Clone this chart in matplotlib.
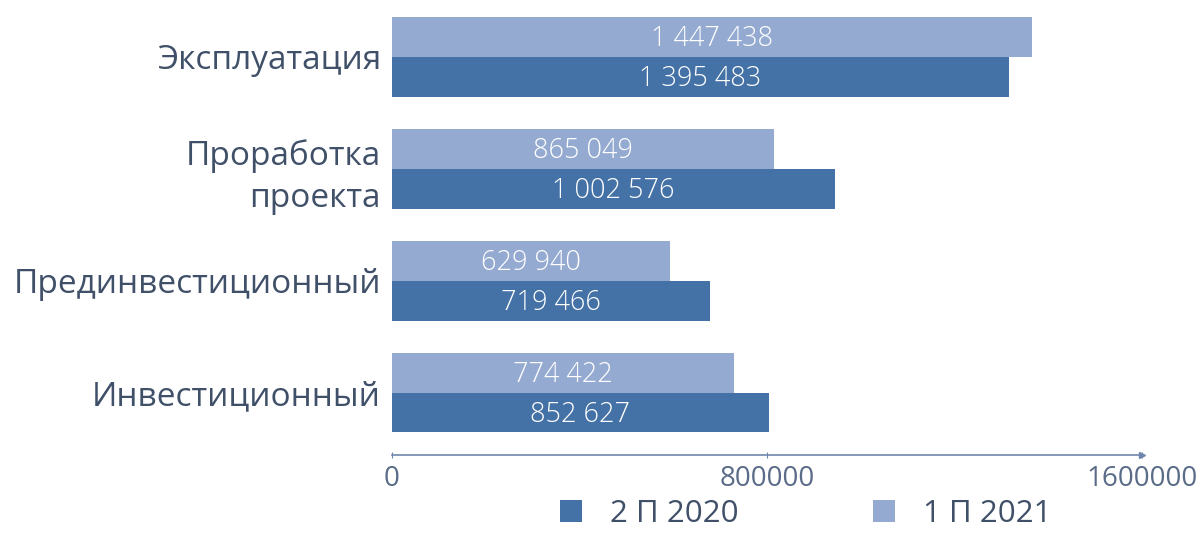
import matplotlib
matplotlib.use('Agg')
import matplotlib.pyplot as plt
from matplotlib.patches import Patch

# Data
categories = ["Эксплуатация", "Проработка\nпроекта", "Прединвестиционный", "Инвестиционный"]
values_2020 = [1395483, 1002576, 719466, 852627]   # 2 П 2020
values_2021 = [1447438, 865049, 629940, 774422]    # 1 П 2021
series_names = ["2 П 2020", "1 П 2021"]
axis_ticks = [0, 800000, 1600000]

dark_color = '#4472a6'
light_color = '#95aad1'
label_color = '#3f5068'
axis_color = '#6f86ad'
font_name = ['Open Sans', 'DejaVu Sans']

def fmt(v):
    return f"{v:,}".replace(",", " ")

fig = plt.figure(figsize=(12.01, 5.33), dpi=100)
ax = fig.add_axes([392/1201, 78/533, 750/1201, 439/533])

bar_h = 0.357
pos = list(range(len(categories)))
ax.barh([p - bar_h/2 for p in pos], values_2021, height=bar_h, color=light_color)
ax.barh([p + bar_h/2 for p in pos], values_2020, height=bar_h, color=dark_color)

# bar scale in the picture is a bit wider than the drawn axis scale
bar_max = 1697000
ax.set_xlim(0, bar_max)
ax.set_ylim(3.558, -0.362)

for p, v in zip(pos, values_2021):
    ax.text(v/2, p - bar_h/2 + 0.02, fmt(v), ha='center', va='center', color='white',
            fontsize=19.5, family=font_name, fontweight='light')
for p, v in zip(pos, values_2020):
    ax.text(v/2, p + bar_h/2 + 0.02, fmt(v), ha='center', va='center', color='white',
            fontsize=19.5, family=font_name, fontweight='light')

ax.set_yticks(pos)
ax.set_yticklabels(categories, fontsize=24, color=label_color, family=font_name,
                   linespacing=1.35)
ax.tick_params(axis='y', length=0, pad=8)

for s in ['top', 'right', 'left']:
    ax.spines[s].set_visible(False)
ax.spines['bottom'].set_visible(False)
ax.xaxis.set_visible(False)

sec = ax.secondary_xaxis('bottom', functions=(lambda x: x * 1600000 / bar_max,
                                              lambda x: x * bar_max / 1600000))
sec.set_xticks(axis_ticks)
sec.set_xticklabels([str(t) for t in axis_ticks], fontsize=20, color='#5a6c88', family=font_name)
sec.spines['bottom'].set_color(axis_color)
sec.spines['bottom'].set_linewidth(1.2)
sec.tick_params(axis='x', colors=axis_color, length=5, direction='inout', pad=5,
                labelcolor='#5a6c88')
ax.plot([1], [0], marker='>', markersize=5, color=axis_color, transform=ax.transAxes,
        clip_on=False)

handles = [Patch(facecolor=dark_color), Patch(facecolor=light_color)]
fig.legend(handles, series_names, loc='center', bbox_to_anchor=(806/1201, 1 - 514/533),
           ncol=2, frameon=False, handlelength=0.7, handleheight=0.7,
           handletextpad=0.9, columnspacing=4.3, labelcolor=label_color,
           borderpad=0.2, prop={'family': font_name, 'size': 22.5})

fig.savefig('out.png', dpi=100)
